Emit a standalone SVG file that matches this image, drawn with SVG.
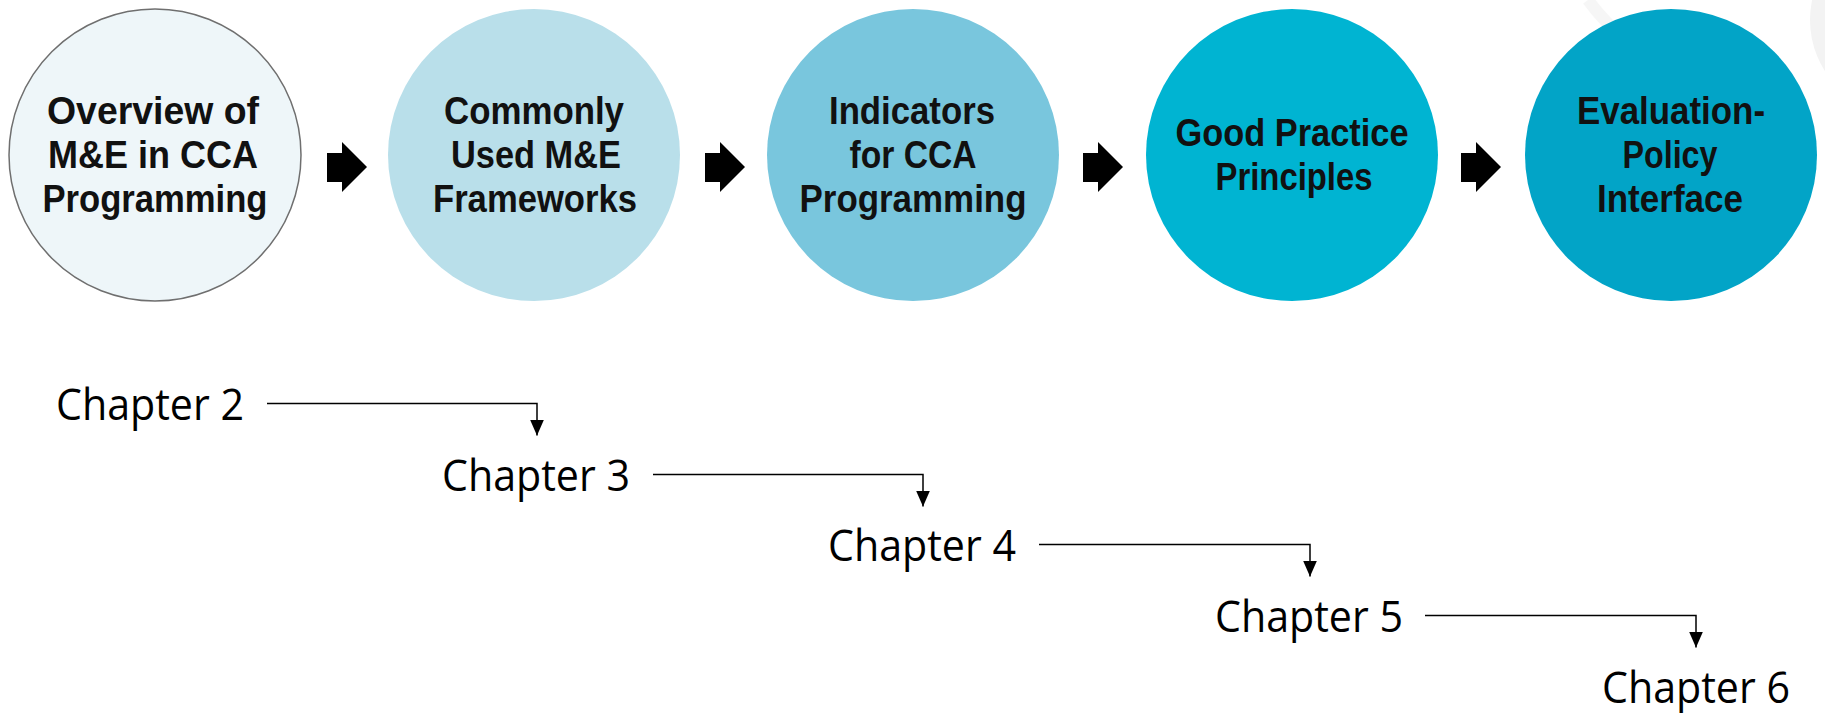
<svg xmlns="http://www.w3.org/2000/svg" width="1825" height="713" viewBox="0 0 1825 713">
  <style>
    .stage-label { font-family: "Liberation Sans", Arial, sans-serif; font-weight: bold; font-size: 38px; fill: #111111; text-anchor: middle; }
    .step-arrow { fill: #000000; }
    .chapter { font-family: "Open Sans", "Noto Sans", sans-serif; font-size: 44px; fill: #000000; }
    .link { fill: none; stroke: #000000; stroke-width: 1.5; }
  </style>
  <defs>
    <marker id="tip" viewBox="0 0 16 14" markerWidth="16" markerHeight="14" refX="16" refY="7" orient="auto" markerUnits="userSpaceOnUse">
      <path d="M0,0 L16,7 L0,14 z" fill="#000000"/>
    </marker>
    <!-- block arrow between stages, drawn at origin -->
    <polygon id="block-arrow" points="0,-14 15,-14 15,-25 40,0 15,25 15,15 0,15"/>
  </defs>

  <rect width="1825" height="713" fill="#ffffff"/>

  <!-- faint backdrop shapes, top right -->
  <g id="backdrop">
    <circle cx="1905" cy="20" r="95" fill="#f3f3f3"/>
    <path d="M1588,0 Q1604,22 1626,40" fill="none" stroke="#f6f6f6" stroke-width="12"/>
  </g>

  <!-- stage circles -->
  <g id="stage-overview">
    <circle cx="155" cy="155" r="146" fill="#eef6f9" stroke="#6f6f6f" stroke-width="1.5"/>
    <text class="stage-label" x="153" y="124" textLength="212" lengthAdjust="spacingAndGlyphs">Overview of</text>
    <text class="stage-label" x="153" y="168" textLength="210" lengthAdjust="spacingAndGlyphs">M&amp;E in CCA</text>
    <text class="stage-label" x="155" y="212" textLength="225" lengthAdjust="spacingAndGlyphs">Programming</text>
  </g>
  <g id="stage-frameworks">
    <circle cx="534" cy="155" r="146" fill="#b9dfea"/>
    <text class="stage-label" x="534" y="124" textLength="180" lengthAdjust="spacingAndGlyphs">Commonly</text>
    <text class="stage-label" x="536" y="168" textLength="170" lengthAdjust="spacingAndGlyphs">Used M&amp;E</text>
    <text class="stage-label" x="535" y="212" textLength="204" lengthAdjust="spacingAndGlyphs">Frameworks</text>
  </g>
  <g id="stage-indicators">
    <circle cx="913" cy="155" r="146" fill="#79c6dd"/>
    <text class="stage-label" x="912" y="124" textLength="166" lengthAdjust="spacingAndGlyphs">Indicators</text>
    <text class="stage-label" x="913" y="168" textLength="127" lengthAdjust="spacingAndGlyphs">for CCA</text>
    <text class="stage-label" x="913" y="212" textLength="227" lengthAdjust="spacingAndGlyphs">Programming</text>
  </g>
  <g id="stage-principles">
    <circle cx="1292" cy="155" r="146" fill="#00b4d2"/>
    <text class="stage-label" x="1292" y="146" textLength="233" lengthAdjust="spacingAndGlyphs">Good Practice</text>
    <text class="stage-label" x="1294" y="190" textLength="157" lengthAdjust="spacingAndGlyphs">Principles</text>
  </g>
  <g id="stage-interface">
    <circle cx="1671" cy="155" r="146" fill="#02a4c7"/>
    <text class="stage-label" x="1671" y="124" textLength="188" lengthAdjust="spacingAndGlyphs">Evaluation-</text>
    <text class="stage-label" x="1670" y="168" textLength="95" lengthAdjust="spacingAndGlyphs">Policy</text>
    <text class="stage-label" x="1670" y="212" textLength="146" lengthAdjust="spacingAndGlyphs">Interface</text>
  </g>

  <!-- block arrows between stages -->
  <g id="stage-arrows" class="step-arrow">
    <use href="#block-arrow" x="327" y="167"/>
    <use href="#block-arrow" x="705" y="167"/>
    <use href="#block-arrow" x="1083" y="167"/>
    <use href="#block-arrow" x="1461" y="167"/>
  </g>

  <!-- chapter labels -->
  <g id="chapter-2"><text class="chapter" x="56" y="420" textLength="188" lengthAdjust="spacingAndGlyphs">Chapter 2</text></g>
  <g id="chapter-3"><text class="chapter" x="442" y="491" textLength="188" lengthAdjust="spacingAndGlyphs">Chapter 3</text></g>
  <g id="chapter-4"><text class="chapter" x="828" y="561" textLength="188" lengthAdjust="spacingAndGlyphs">Chapter 4</text></g>
  <g id="chapter-5"><text class="chapter" x="1215" y="632" textLength="188" lengthAdjust="spacingAndGlyphs">Chapter 5</text></g>
  <g id="chapter-6"><text class="chapter" x="1602" y="703" textLength="188" lengthAdjust="spacingAndGlyphs">Chapter 6</text></g>

  <!-- elbow connectors between chapters -->
  <g id="connectors" class="link">
    <path d="M267,403.5 H537 V435.5" marker-end="url(#tip)"/>
    <path d="M653,474.5 H923 V506.5" marker-end="url(#tip)"/>
    <path d="M1039,544.5 H1310 V576.5" marker-end="url(#tip)"/>
    <path d="M1425,615.5 H1696 V647.5" marker-end="url(#tip)"/>
  </g>
</svg>
